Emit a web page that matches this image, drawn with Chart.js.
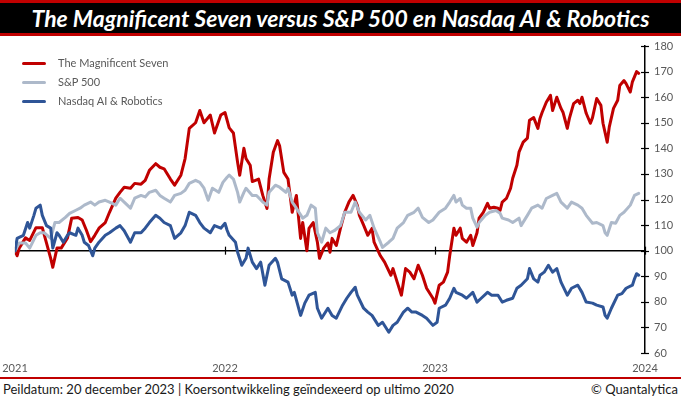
<!DOCTYPE html>
<html>
<head>
<meta charset="utf-8">
<script src="https://cdn.jsdelivr.net/npm/chart.js@4.4.1/dist/chart.umd.min.js"></script>
<style>
  html, body { margin: 0; padding: 0; background: #fff; }
  body { width: 681px; height: 399px; position: relative; overflow: hidden; font-family: Lato, "Open Sans", sans-serif; }
  #redTop { position: absolute; left: 0; top: 0; width: 681px; height: 3px; background: #C00000; }
  #titleBar { position: absolute; left: 0; top: 3px; width: 681px; height: 30px; background: #000; }
  #redUnder { position: absolute; left: 0; top: 33px; width: 681px; height: 3px; background: #C00000; }
  #title { position: absolute; left: 0; top: 3px; width: 681px; height: 30px; line-height: 30px; text-align: center;
           color: #fff; font-weight: bold; font-style: italic; font-size: 23px; white-space: nowrap; }
  #chartWrap { position: absolute; left: 0; top: 36px; width: 681px; height: 341px; }
  #legend { position: absolute; left: 0; top: 0; }
  .lg { position: absolute; left: 0; height: 14px; white-space: nowrap; }
  .sw { position: absolute; left: 22px; top: 6px; width: 24px; height: 3px; border-radius: 2px; }
  .lt { position: absolute; left: 58px; top: 0; font-size: 11px; line-height: 14px; color: #595959; }
  #redFoot { position: absolute; left: 0; top: 377px; width: 681px; height: 2px; background: #C00000; }
  #footL { position: absolute; left: 3px; top: 381px; font-size: 13px; line-height: 16px; color: #1a1a1a; white-space: nowrap; }
  #footR { position: absolute; right: 3px; top: 381px; font-size: 13px; line-height: 16px; color: #1a1a1a; white-space: nowrap; }
</style>
</head>
<body>
<div id="redTop"></div>
<div id="titleBar"></div>
<div id="redUnder"></div>
<div id="title">The Magnificent Seven versus S&amp;P 500 en Nasdaq AI &amp; Robotics</div>
<div id="chartWrap"><canvas id="c" width="681" height="341"></canvas></div>
<div id="legend"></div>
<div id="redFoot"></div>
<div id="footL">Peildatum: 20 december 2023 | Koersontwikkeling geïndexeerd op ultimo 2020</div>
<div id="footR">© Quantalytica</div>
<script>
// ---- data (time in years since end of 2020; values indexed, ultimo 2020 = 100) ----
const seriesNames = ["The Magnificent Seven", "S&P 500", "Nasdaq AI & Robotics"];
const yearLabels = ["2021", "2022", "2023", "2024"];
const yTickValues = [60, 70, 80, 90, 100, 110, 120, 130, 140, 150, 160, 170, 180];

const mag7Time = [0.00,0.01,0.02,0.05,0.07,0.10,0.13,0.14,0.17,0.18,0.20,0.22,0.25,0.27,0.30,0.32,0.34,0.36,0.38,0.40,0.43,0.45,0.48,0.50,0.52,0.55,0.57,0.60,0.62,0.64,0.67,0.69,0.71,0.74,0.76,0.79,0.81,0.83,0.86,0.88,0.90,0.93,0.95,0.98,1.00,1.02,1.04,1.06,1.07,1.09,1.10,1.12,1.13,1.16,1.18,1.20,1.21,1.23,1.25,1.26,1.28,1.30,1.31,1.32,1.34,1.36,1.37,1.39,1.40,1.42,1.44,1.45,1.47,1.49,1.50,1.51,1.53,1.55,1.57,1.59,1.61,1.63,1.64,1.66,1.68,1.70,1.71,1.74,1.76,1.79,1.80,1.82,1.84,1.86,1.88,1.90,1.92,1.94,1.96,1.99,2.00,2.02,2.04,2.06,2.07,2.09,2.10,2.12,2.13,2.15,2.17,2.18,2.20,2.21,2.23,2.25,2.26,2.28,2.30,2.31,2.32,2.34,2.36,2.37,2.39,2.40,2.42,2.44,2.45,2.47,2.49,2.50,2.51,2.53,2.55,2.56,2.58,2.60,2.61,2.63,2.64,2.66,2.68,2.69,2.70,2.72,2.74,2.75,2.77,2.79,2.80,2.82,2.83,2.85,2.87,2.88,2.90,2.91,2.93,2.94,2.96,2.97];
const mag7Values = [100,98,101,105,104,109,109,106,97,93.5,101,101,105,112.7,113,112,108,103.5,106,108.8,111,115,120.5,122.8,124.8,124.4,126.3,126,127.5,131.4,134,132.6,132,128,125.6,129.5,136,147.8,150,154.8,150,153,146,153,154,148,146,134.5,129.5,140,136,133.4,127,128,121.6,116.5,128,138.5,143,141,130.6,128,121.6,115,121.6,104.8,111,100,108.7,111,103.3,97,101,103,99.4,104.8,102,108.8,115,119,121.6,117.7,113.8,110,106,108.7,103.3,98,95.5,90.4,93,87.7,82.6,93,91.6,89,94.3,90.4,85.3,81.4,79.5,86.5,87.7,91.6,98,108.8,106,108.8,104.8,103.3,106,102,107,112.7,115,118.5,116.6,117,116.6,115.7,119,120.4,124.4,128.3,133.4,138.5,142.4,144,151,152,147.8,151.7,154,158,160.7,154.8,160,155.6,154,147.8,151.7,157.5,158.8,157.5,160,153.7,149.8,152,159.5,156.8,149.8,142.4,148.4,155.6,158.8,164.6,166.5,165.3,162,166,170,169.3];

const spTime = [0.00,0.02,0.05,0.07,0.10,0.12,0.14,0.17,0.19,0.21,0.24,0.26,0.29,0.31,0.33,0.36,0.38,0.40,0.43,0.45,0.48,0.50,0.52,0.55,0.57,0.60,0.62,0.64,0.67,0.69,0.71,0.74,0.76,0.79,0.81,0.83,0.86,0.88,0.90,0.92,0.94,0.97,0.99,1.01,1.02,1.04,1.06,1.07,1.09,1.10,1.13,1.15,1.18,1.20,1.21,1.24,1.26,1.29,1.30,1.32,1.34,1.37,1.39,1.41,1.43,1.44,1.46,1.48,1.50,1.52,1.55,1.57,1.60,1.62,1.64,1.67,1.69,1.71,1.74,1.75,1.78,1.80,1.82,1.85,1.87,1.90,1.92,1.94,1.97,1.99,2.02,2.05,2.07,2.09,2.10,2.12,2.13,2.15,2.17,2.18,2.20,2.21,2.24,2.26,2.29,2.31,2.32,2.35,2.37,2.40,2.41,2.44,2.46,2.49,2.51,2.53,2.56,2.58,2.60,2.63,2.65,2.68,2.70,2.72,2.75,2.77,2.80,2.81,2.82,2.84,2.86,2.88,2.90,2.93,2.95,2.97];
const spValues = [100,103,103,101,106,107,107,104.8,111,111,113,114.6,115.8,116.6,117.8,119,117.8,119,119.7,119,117.8,120.5,119,116.6,120.5,121.6,121,122.8,123.6,121.6,120.5,119,121.6,122.4,123.6,126.3,127.5,126.7,124.4,119.7,124.4,122.8,126.7,128.7,129.5,128,122.8,119,122.8,124.4,121.6,121.6,119,117.8,122.8,125.6,124.8,122.8,124.4,119,116.6,112.7,113.8,117.8,116.6,107,103.3,108.8,107,107.8,109.8,115,115,119,115,112,113.8,108.8,103.3,101.3,103.3,104.8,108.8,111,113.8,115,116.6,113,111,112,115,116.6,119,121.6,119,120.4,117.8,116.6,116.6,112.7,109.2,111,113.8,115,115.7,114.6,112.7,112,111,112.7,109.8,113.8,116.6,117.8,116.6,120.4,121.6,122.4,119,116.6,119,117.8,116.6,113.8,110.7,111,109.8,107,106,111,110.7,113.8,115,117.8,121.6,122.4];

const aiTime = [0.00,0.01,0.04,0.06,0.07,0.09,0.10,0.12,0.13,0.15,0.17,0.18,0.20,0.21,0.23,0.25,0.26,0.29,0.30,0.32,0.33,0.35,0.37,0.38,0.40,0.43,0.45,0.48,0.50,0.52,0.55,0.57,0.60,0.62,0.64,0.67,0.69,0.71,0.74,0.76,0.79,0.81,0.83,0.86,0.88,0.90,0.93,0.95,0.98,1.00,1.01,1.02,1.05,1.06,1.08,1.10,1.11,1.13,1.15,1.17,1.19,1.21,1.24,1.25,1.27,1.30,1.32,1.33,1.36,1.38,1.40,1.43,1.44,1.46,1.49,1.51,1.53,1.56,1.58,1.60,1.62,1.63,1.66,1.68,1.70,1.73,1.75,1.78,1.80,1.82,1.85,1.87,1.89,1.91,1.94,1.96,1.99,2.01,2.02,2.05,2.07,2.09,2.10,2.13,2.15,2.18,2.20,2.22,2.25,2.27,2.30,2.32,2.34,2.37,2.39,2.41,2.44,2.45,2.47,2.49,2.50,2.52,2.54,2.56,2.58,2.60,2.63,2.65,2.68,2.70,2.72,2.75,2.77,2.80,2.81,2.82,2.84,2.87,2.89,2.91,2.94,2.95,2.96,2.97];
const aiValues = [100,104.8,106,111,108.8,113.8,116.6,117.8,113.8,109.8,108.8,101,107,106,103.3,106,107,106,108.8,106,103.3,102,98,101,103.3,106,107,108.8,109.8,107.8,103.3,107,107,108.8,111,113.8,112.7,111,109.8,104.8,107,109.8,115,113.8,111,108.8,107,109.8,108.8,110.7,108,106,103.3,99.4,94.3,97,101,95.5,93,95.5,86.5,94.3,97,95.5,89,87.7,82.6,83.7,74.7,79.5,82.6,83.7,77.5,73.6,77.5,74.7,73.6,78.7,81.4,83.7,85.7,82.6,77.5,76,74.7,70.8,72,68.1,70.8,72,76,77.5,76,76,74.7,73.6,70.8,72,77.5,78.7,81.4,85.3,83.7,82.6,81.4,83.7,79.9,81.4,83.7,82.6,82.6,79.9,80.6,81.4,85.3,86.5,89,93,89,87.7,90.4,91.6,94.3,91.6,93,87.7,82.6,85.3,86.5,83.7,79.9,79.5,78.7,78,74.7,73.6,77.5,82.6,83.2,85.3,86.5,89,91,90.4];

const seriesColors = ["#C00000", "#ADB9CA", "#2F5597"];

// ---- build ----
function pts(t, v) { return t.map((x, i) => ({ x: x, y: v[i] })); }
const allTimes = [mag7Time, spTime, aiTime];
const allValues = [mag7Values, spValues, aiValues];

const datasets = seriesNames.map((name, i) => ({
  label: name,
  data: pts(allTimes[i], allValues[i]),
  borderColor: seriesColors[i],
  backgroundColor: seriesColors[i],
  borderWidth: 3,
  pointRadius: 0,
  tension: 0,
  borderJoinStyle: 'round',
  borderCapStyle: 'round',
  order: 3 - i
}));

// HTML legend from names/colors
const lg = document.getElementById('legend');
seriesNames.forEach((name, i) => {
  const d = document.createElement('div');
  d.className = 'lg';
  d.style.top = (56 + i * 19) + 'px';
  const sw = document.createElement('div'); sw.className = 'sw'; sw.style.background = seriesColors[i];
  const tx = document.createElement('div'); tx.className = 'lt'; tx.textContent = name;
  d.appendChild(sw); d.appendChild(tx); lg.appendChild(d);
});

const refLine = {
  id: 'refLine',
  beforeDatasetsDraw(chart) {
    const { ctx, scales: { x, y } } = chart;
    const py = y.getPixelForValue(100);
    ctx.save();
    ctx.strokeStyle = '#000';
    ctx.lineWidth = 1.5;
    ctx.beginPath();
    ctx.moveTo(x.getPixelForValue(0), py);
    ctx.lineTo(x.getPixelForValue(3), py);
    ctx.stroke();
    ctx.lineWidth = 1.2;
    for (let k = 0; k < yearLabels.length; k++) {
      const px = Math.round(x.getPixelForValue(k)) + 0.5;
      ctx.beginPath(); ctx.moveTo(px, py - 4); ctx.lineTo(px, py + 4); ctx.stroke();
    }
    ctx.restore();
  },
  afterDraw(chart) {
    const { ctx, scales: { x, y } } = chart;
    const ax = x.getPixelForValue(3);
    ctx.save();
    ctx.strokeStyle = '#000';
    ctx.lineWidth = 1.2;
    yTickValues.forEach(v => {
      const py = Math.round(y.getPixelForValue(v)) + 0.5;
      ctx.beginPath(); ctx.moveTo(ax - 4, py); ctx.lineTo(ax + 4, py); ctx.stroke();
    });
    ctx.restore();
  }
};

new Chart(document.getElementById('c'), {
  type: 'line',
  data: { datasets },
  options: {
    responsive: false,
    animation: false,
    layout: { padding: { left: 15, right: 0, top: 10, bottom: 0 } },
    plugins: { legend: { display: false }, tooltip: { enabled: false } },
    scales: {
      x: {
        type: 'linear', min: 0, max: 3,
        grid: { display: false, drawTicks: false },
        border: { display: false },
        afterBuildTicks: (s) => { s.ticks = yearLabels.map((_, k) => ({ value: k })); },
        afterFit: (s) => { s.height = 24; s.paddingLeft = 0; s.paddingRight = 0; },
        ticks: {
          callback: (v) => yearLabels[v],
          color: '#595959', font: { family: 'Lato', size: 11 }, padding: 9, maxRotation: 0, autoSkip: false
        }
      },
      y: {
        position: 'right', min: 60, max: 180,
        grid: { display: false, drawTicks: false },
        border: { display: true, color: '#000', width: 1.5 },
        afterBuildTicks: (s) => { s.ticks = yTickValues.map(v => ({ value: v })); },
        afterFit: (s) => { s.width = 36; s.paddingTop = 0; s.paddingBottom = 0; },
        ticks: { color: '#595959', font: { family: 'Lato', size: 11 }, padding: 9 }
      }
    }
  },
  plugins: [refLine]
});
</script>
</body>
</html>
